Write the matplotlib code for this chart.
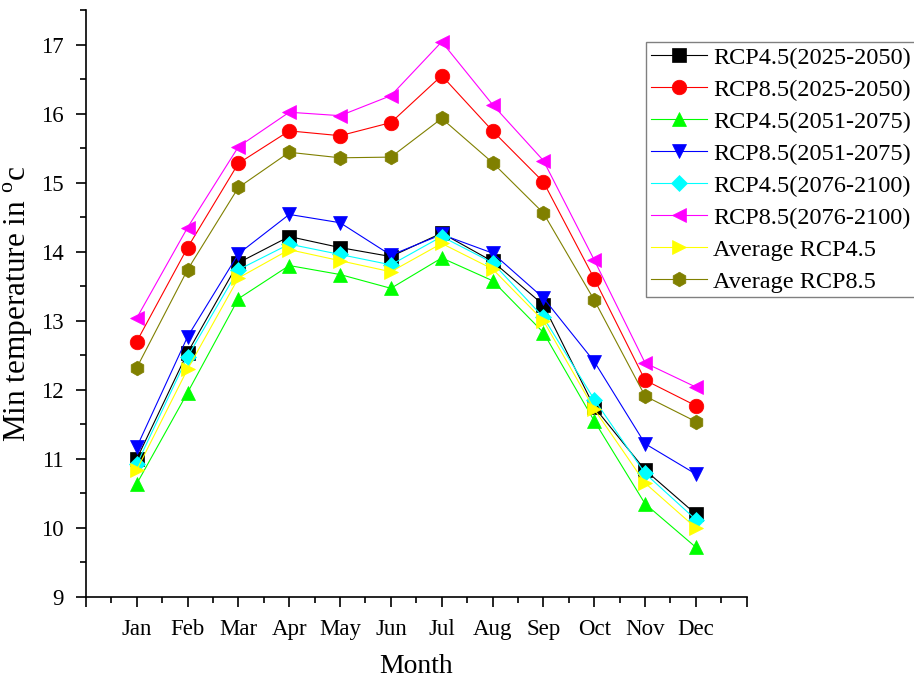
import matplotlib
matplotlib.use("Agg")
import matplotlib.pyplot as plt
from matplotlib.ticker import MultipleLocator, FixedLocator

plt.rcParams['font.family'] = ['Liberation Serif', 'DejaVu Serif']
plt.rcParams['mathtext.fontset'] = 'custom'
plt.rcParams['mathtext.rm'] = 'Liberation Serif'

months = ['Jan', 'Feb', 'Mar', 'Apr', 'May', 'Jun', 'Jul', 'Aug', 'Sep', 'Oct', 'Nov', 'Dec']

rcp45_2025_2050 = [11.00, 12.54, 13.84, 14.22, 14.06, 13.93, 14.27, 13.86, 13.23, 11.75, 10.84, 10.20]
rcp85_2025_2050 = [12.70, 14.06, 15.28, 15.75, 15.68, 15.87, 16.55, 15.75, 15.01, 13.61, 12.14, 11.77]
rcp45_2051_2075 = [10.64, 11.96, 13.32, 13.80, 13.67, 13.47, 13.91, 13.58, 12.83, 11.55, 10.35, 9.72]
rcp85_2051_2075 = [11.17, 12.77, 13.97, 14.54, 14.42, 13.95, 14.25, 13.98, 13.33, 12.41, 11.22, 10.78]
rcp45_2076_2100 = [10.92, 12.48, 13.74, 14.11, 13.96, 13.81, 14.22, 13.84, 13.05, 11.86, 10.79, 10.12]
rcp85_2076_2100 = [13.04, 14.35, 15.52, 16.02, 15.97, 16.26, 17.04, 16.13, 15.32, 13.88, 12.39, 12.04]
avg_rcp45 = [10.84, 12.30, 13.62, 14.03, 13.87, 13.71, 14.12, 13.75, 13.00, 11.72, 10.65, 10.00]
avg_rcp85 = [12.32, 13.74, 14.93, 15.44, 15.36, 15.37, 15.93, 15.29, 14.56, 13.30, 11.91, 11.54]

series = [
    ('RCP4.5(2025-2050)', rcp45_2025_2050, '#000000', 's', 9.5),
    ('RCP8.5(2025-2050)', rcp85_2025_2050, '#FF0000', 'o', 10.5),
    ('RCP4.5(2051-2075)', rcp45_2051_2075, '#00FF00', '^', 10.5),
    ('RCP8.5(2051-2075)', rcp85_2051_2075, '#0000FF', 'v', 10.5),
    ('RCP4.5(2076-2100)', rcp45_2076_2100, '#00FFFF', 'D', 8.5),
    ('RCP8.5(2076-2100)', rcp85_2076_2100, '#FF00FF', '<', 10.5),
    ('Average RCP4.5', avg_rcp45, '#FFFF00', '>', 10.5),
    ('Average RCP8.5', avg_rcp85, '#808000', 'h', 10.5),
]

fig = plt.figure(figsize=(9.14, 6.86), dpi=100)
ax = fig.add_axes([0.094, 0.1297, 0.723, 0.8557])

x = list(range(1, len(months) + 1))
for label, vals, color, marker, ms in series:
    ax.plot(x, vals, color=color, linewidth=0.8, marker=marker, markersize=ms,
            markerfacecolor=color, markeredgecolor=color, markeredgewidth=0.5,
            label=label)

ax.set_xlim(0, 13)
ax.set_ylim(9, 17.5)
ax.xaxis.set_major_locator(FixedLocator(list(range(0, 14))))
ax.set_xticklabels([''] + months + [''])
ax.xaxis.set_minor_locator(MultipleLocator(0.5))
ax.yaxis.set_major_locator(FixedLocator(list(range(9, 18))))
ax.yaxis.set_minor_locator(MultipleLocator(0.5))

for s in ['top', 'right']:
    ax.spines[s].set_visible(False)
for s in ['left', 'bottom']:
    ax.spines[s].set_linewidth(1.2)

ax.tick_params(axis='both', which='major', length=7, width=1.2, labelsize=16.5, direction='out')
ax.tick_params(axis='both', which='minor', length=4, width=1.2, direction='out')
ax.tick_params(axis='x', which='major', pad=9)
ax.tick_params(axis='y', which='major', pad=9)

ax.set_xlabel('Month', fontsize=20, labelpad=10)
ax.set_ylabel('Min temperature in $^{\\mathregular{o}}$c', fontsize=22.5, labelpad=4)

leg = ax.legend(loc='upper left', bbox_to_anchor=(0.707, 0.939), bbox_transform=fig.transFigure,
                fontsize=17.5, frameon=True, fancybox=False, edgecolor='#808080',
                framealpha=1, borderpad=0.2, labelspacing=0.41, handlelength=2.3,
                handletextpad=0.25, borderaxespad=0)
leg.get_frame().set_linewidth(1.0)

fig.savefig('out.png', dpi=100)
